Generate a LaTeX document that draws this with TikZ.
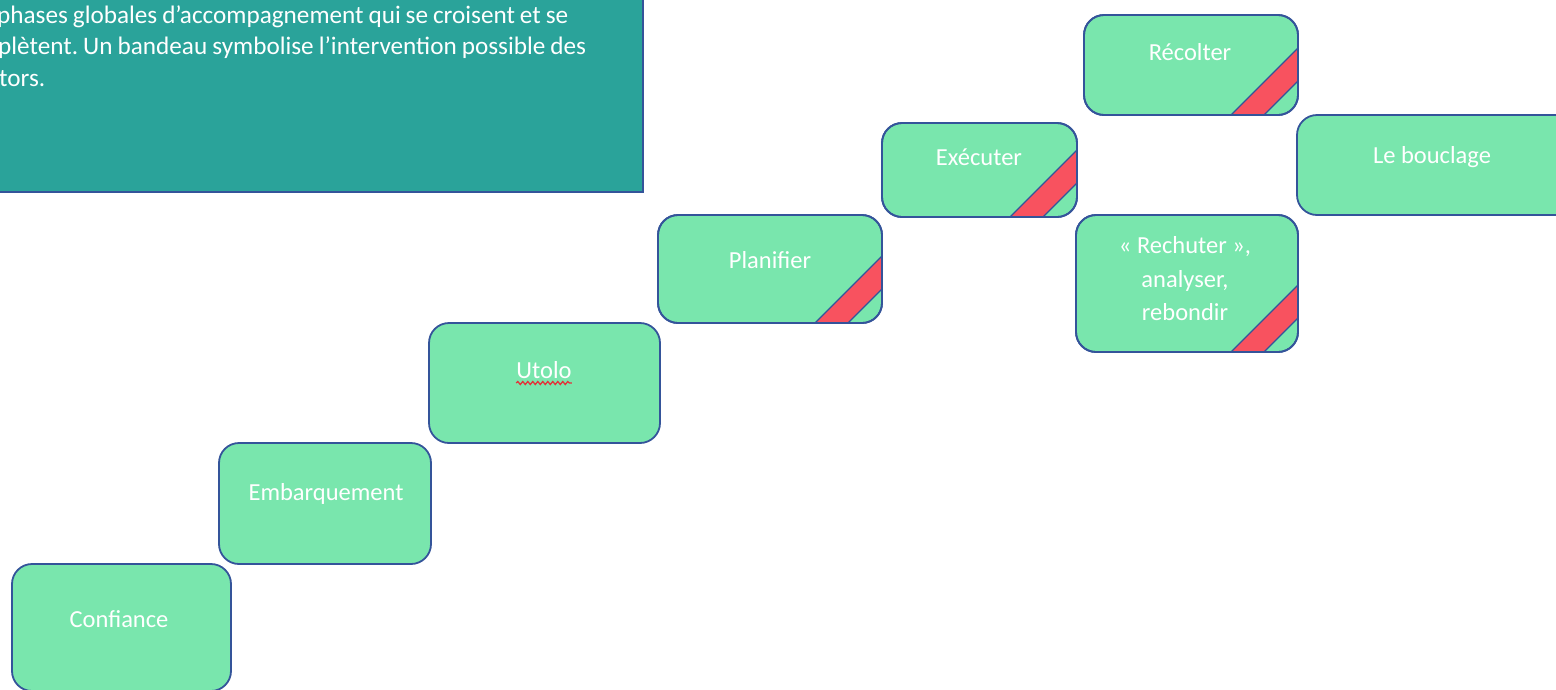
\documentclass[tikz,border=0pt]{standalone}
\usepackage{fontspec}
\setmainfont{Carlito}
\usetikzlibrary{decorations.pathmorphing}
\definecolor{boxfill}{HTML}{79E6AD}
\definecolor{boxline}{HTML}{34549A}
\definecolor{stripered}{HTML}{F8525F}
\definecolor{introfill}{HTML}{2AA39A}
\definecolor{introline}{HTML}{34549A}
\definecolor{squiggle}{HTML}{E0353A}
\newcommand\mybox[5]{%
  \node[phasebox, minimum width={#4-#2}, minimum height={#5-#3}] (#1) at ({(#2+#4)/2},{(#3+#5)/2}) {};}
\newcommand\mystripe[1]{%
  \begin{scope}
    \clip[rounded corners=20pt] (#1.south west) rectangle (#1.north east);
    \filldraw[fill=stripered, draw=boxline, line width=1.2pt]
      ([shift={(-77,10)}]#1.south east) -- ([shift={(10,-77)}]#1.south east) --
      ([shift={(10,-44)}]#1.south east) -- ([shift={(-44,10)}]#1.south east) -- cycle;
  \end{scope}
  \draw[boxline, line width=1.8pt, rounded corners=20pt] (#1.south west) rectangle (#1.north east);}
\frenchspacing
\begin{document}
\begin{tikzpicture}[x=1pt,y=-1pt,
  phasebox/.style={draw=boxline, fill=boxfill, line width=1.8pt, rounded corners=20pt, inner sep=0pt, outer sep=0pt},
  lbl/.style={text=white, font=\fontsize{24.5}{33.5}\selectfont, anchor=base, align=center, inner sep=0pt},
  para/.style={text=white, font=\fontsize{25.2}{31}\selectfont, anchor=base west, inner sep=0pt}]
\useasboundingbox (0,0) rectangle (1556,689);
\clip (0,0) rectangle (1556,689);
% intro text box
\node[draw=introline, fill=introfill, line width=1.2pt, inner sep=0pt, outer sep=0pt,
      minimum width=673, minimum height=222] (intro) at ({(-30+643)/2},{(-30+192)/2}) {};
\node[para] (l1) at (-3,23) {\makebox[571pt][s]{phases globales d’accompagnement qui se croisent et se}};
\node[para] (l2) at (-2,54) {\makebox[588pt][s]{plètent. Un bandeau symbolise l’intervention possible des}};
\node[para] (l3) at (-1,86) {tors.};
% boxes
\mybox{conf}{12}{564}{231}{691}
\mybox{emb}{219}{443}{431}{564}
\mybox{uto}{429}{323}{660}{443}
\mybox{plan}{658}{215}{882}{323}
\mybox{exec}{882}{123}{1077}{217}
\mybox{reco}{1084}{15}{1298}{115}
\mybox{boucl}{1297}{115}{1580}{215}
\mybox{rech}{1076}{215}{1298}{352}
\mystripe{plan}
\mystripe{exec}
\mystripe{reco}
\mystripe{rech}
% labels
\node[lbl] (tconf) at (119,627) {Confiance};
\node[lbl] (temb) at (326,500) {Embarquement};
\node[lbl] (tuto) at (544,378) {Utolo};
\node[lbl] (tplan) at (770,268) {Planifier};
\node[lbl] (texec) at (979,165) {Exécuter};
\node[lbl] (treco) at (1190,60) {Récolter};
\node[lbl] (tboucl) at (1432,163) {Le bouclage};
\node[lbl, anchor=center] (trech) at (1185,279) {«~Rechuter~»,\\analyser,\\rebondir};
\draw[squiggle, line width=1.3pt, decorate, decoration={snake, amplitude=1.5pt, segment length=5pt}]
  ([shift={(0,5)}]tuto.base west) -- ([shift={(0,5)}]tuto.base east);
\end{tikzpicture}
\end{document}
